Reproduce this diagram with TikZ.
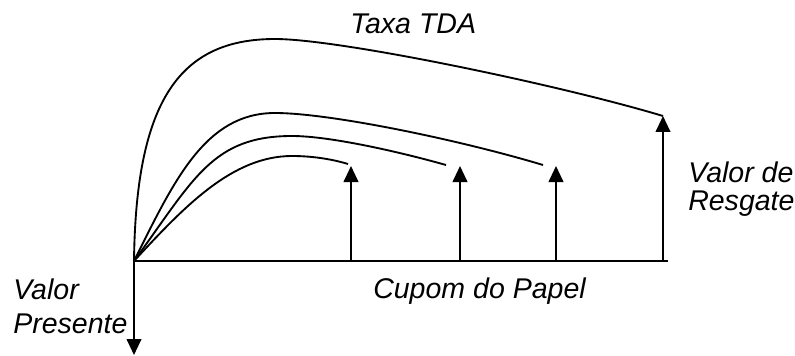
\documentclass[tikz,border=0pt]{standalone}
\usepackage{fontspec}
\setmainfont{Liberation Sans}
\usetikzlibrary{arrows.meta}
\tikzset{
	rotulo/.style={font=\itshape\fontsize{21.4}{25.5}\selectfont, inner sep=0pt, anchor=base west, align=left},
	seta/.style={line width=1.5pt, -{Triangle[length=12pt,width=11pt]}},
	curva/.style={line width=1.4pt}
}
\begin{document}
\begin{tikzpicture}[x=0.75pt,y=-0.75pt]
	\useasboundingbox (0,0) rectangle (795,356);

	\coordinate (O) at (134,261);
	\coordinate (fim) at (668,261);
	\coordinate (vp) at (134,355);

	\coordinate (c1) at (351,261);
	\coordinate (c2) at (460,261);
	\coordinate (c3) at (556,261);
	\coordinate (c4) at (663,261);
	\coordinate (t1) at (351,166);
	\coordinate (t2) at (460,166);
	\coordinate (t3) at (556,166);
	\coordinate (t4) at (663,116);

	\draw[line width=1.5pt] (O) -- (fim);
	\draw[seta] (O) -- (vp);
	\draw[seta] (c1) -- (t1);
	\draw[seta] (c2) -- (t2);
	\draw[seta] (c3) -- (t3);
	\draw[seta] (c4) -- (t4);

	\draw[curva] (O) .. controls (136,100) and (180,39) .. (275,39)
		.. controls (340,39) and (560,85) .. (t4);
	\draw[curva] (O) .. controls (174,181) and (205,113) .. (275,113)
		.. controls (330,113) and (460,140) .. (543,165);
	\draw[curva] (O) .. controls (194,179) and (212,136) .. (292,136)
		.. controls (330,136) and (400,152) .. (446,165);
	\draw[curva] (O) .. controls (184,207) and (232,156) .. (292,156)
		.. controls (315,156) and (335,160) .. (348,164);

	\node[rotulo] (taxa) at (350,34) {Taxa TDA};
	\node[rotulo] (cupom) at (373,298) {Cupom do Papel};
	\node[rotulo] (resgate) at (688,210) {Valor de\\[-4.9pt]Resgate};
	\node[rotulo] (presente) at (13,333) {Valor\\Presente};
\end{tikzpicture}
\end{document}
